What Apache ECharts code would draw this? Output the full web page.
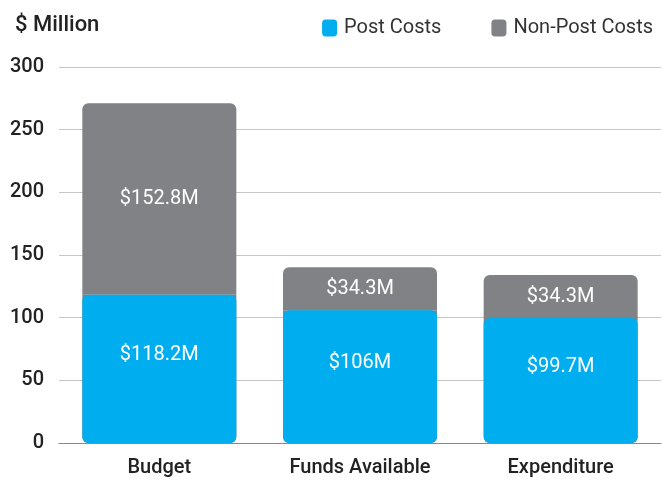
<!DOCTYPE html>
<html>
<head>
<meta charset="utf-8">
<script src="https://cdn.jsdelivr.net/npm/echarts@6/dist/echarts.min.js"></script>
<style>
html,body{margin:0;padding:0;background:#fff;}
#chart{width:662px;height:480px;}
</style>
</head>
<body>
<div id="chart"></div>
<script>
var categories = ['Budget', 'Funds Available', 'Expenditure'];
var postCosts = [118.2, 106, 99.7];
var nonPostCosts = [152.8, 34.3, 34.3];
var yTicks = [0, 50, 100, 150, 200, 250, 300];

var BLUE = '#00AEEF';
var GRAY = '#808285';
var FONT = 'Roboto';

function money(v) { return '$' + v + 'M'; }

var chart = echarts.init(document.getElementById('chart'));
chart.setOption({
  animation: false,
  textStyle: { fontFamily: FONT },
  title: {
    text: '$ Million',
    left: 10, top: 9,
    textStyle: { fontFamily: FONT, fontSize: 22, fontWeight: 500, color: '#222' }
  },
  legend: {
    data: ['Post Costs', 'Non-Post Costs'],
    right: 4, top: 13,
    icon: 'roundRect',
    itemWidth: 15, itemHeight: 17,
    itemGap: 50,
    textStyle: { fontFamily: FONT, fontSize: 20, color: '#333', padding: [0, 0, 0, 2] }
  },
  grid: { left: 59, right: 1, top: 67, bottom: 37 },
  xAxis: {
    type: 'category',
    data: categories,
    axisTick: { show: false },
    axisLine: { lineStyle: { color: '#888', width: 1 } },
    axisLabel: { fontFamily: FONT, fontSize: 20, fontWeight: 500, color: '#222', margin: 15 }
  },
  yAxis: {
    type: 'value',
    min: yTicks[0], max: yTicks[yTicks.length - 1], interval: yTicks[1] - yTicks[0],
    axisLine: { show: false },
    axisTick: { show: false },
    splitLine: { lineStyle: { color: '#c6c6c6', width: 1 } },
    axisLabel: { fontFamily: FONT, fontSize: 20, fontWeight: 500, color: '#222', margin: 15 }
  },
  series: [
    {
      name: 'underlay',
      type: 'bar',
      data: postCosts,
      barWidth: 154,
      barGap: '-100%',
      silent: true,
      z: 1,
      itemStyle: { color: GRAY, borderRadius: [0, 0, 6, 6] },
      label: { show: false }
    },
    {
      name: 'Post Costs',
      type: 'bar',
      stack: 'total',
      data: postCosts,
      barWidth: 154,
      barGap: '-100%',
      z: 3,
      itemStyle: { color: BLUE, borderRadius: 6 },
      label: {
        show: true, position: 'inside', offset: [0, -14],
        formatter: function (p) { return money(p.value); },
        fontFamily: FONT, fontSize: 20, color: '#fff'
      }
    },
    {
      name: 'Non-Post Costs',
      type: 'bar',
      stack: 'total',
      data: nonPostCosts,
      barWidth: 154,
      barGap: '-100%',
      z: 2,
      itemStyle: { color: GRAY, borderRadius: [6, 6, 0, 0] },
      label: {
        show: true, position: 'inside',
        formatter: function (p) { return money(p.value); },
        fontFamily: FONT, fontSize: 20, color: '#fff'
      }
    }
  ]
});
</script>
</body>
</html>
